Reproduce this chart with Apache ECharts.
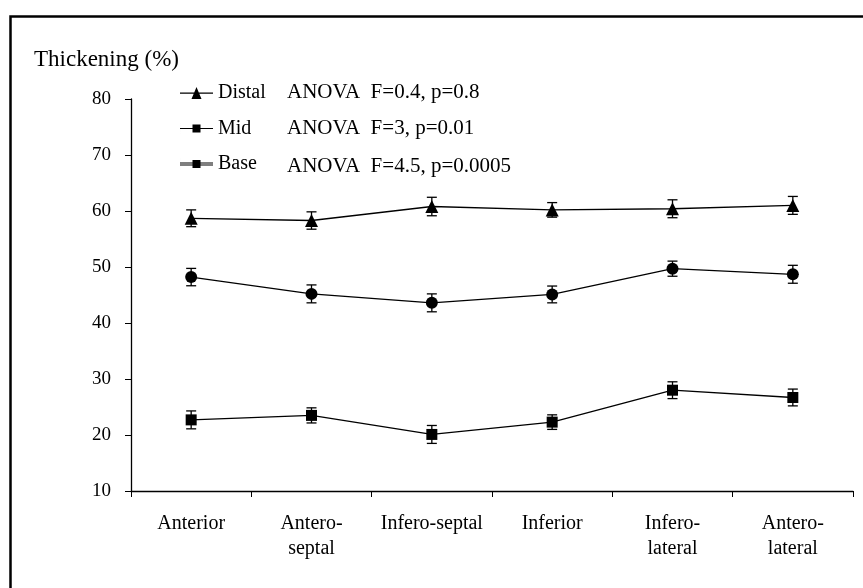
<!DOCTYPE html>
<html>
<head>
<meta charset="utf-8">
<script src="https://cdn.jsdelivr.net/npm/echarts@6/dist/echarts.min.js"></script>
<style>
html,body{margin:0;padding:0;background:#fff;}
#chart{width:863px;height:588px;}
</style>
</head>
<body>
<div id="chart"></div>
<script>
const categories = ['Anterior', 'Antero-\nseptal', 'Infero-septal', 'Inferior', 'Infero-\nlateral', 'Antero-\nlateral'];
const distal = [58.7, 58.3, 60.8, 60.2, 60.4, 61.0];
const distalErr = [1.5, 1.55, 1.65, 1.3, 1.6, 1.6];
const mid = [48.2, 45.2, 43.6, 45.1, 49.7, 48.7];
const midErr = [1.55, 1.6, 1.6, 1.5, 1.35, 1.6];
const base = [22.7, 23.5, 20.1, 22.3, 28.0, 26.7];
const baseErr = [1.6, 1.35, 1.6, 1.3, 1.5, 1.5];
const anovaTexts = ['ANOVA  F=0.4, p=0.8', 'ANOVA  F=3, p=0.01', 'ANOVA  F=4.5, p=0.0005'];
const yTicks = {min: 10, max: 80, interval: 10};

const FONT = '"Liberation Serif", "DejaVu Serif", serif';
const chart = echarts.init(document.getElementById('chart'));

// legend icons: line + marker, drawn in a 33 x 12 box
const iconDistal = 'path://M0,5.4H33V6.7H0ZM11.5,12L16.5,0L21.5,12Z';
const iconMid = 'path://M0,0H0.01V12H0ZM0,5.4H33V6.6H0ZM12.5,2H20.5V10H12.5Z';
const iconBase = 'path://M0,0H0.01V12H0ZM0,4.6H33V5.5H0ZM0,6.6H33V7.5H0ZM12.5,2H20.5V10H12.5Z';

function errSeries(vals, errs) {
  return {
    type: 'custom',
    silent: true,
    z: 3,
    data: vals.map((v, i) => [i, v - errs[i], v + errs[i]]),
    renderItem: function (params, api) {
      const lo = api.coord([api.value(0), api.value(1)]);
      const hi = api.coord([api.value(0), api.value(2)]);
      const w = 5;
      const st = {stroke: '#000', lineWidth: 1.3};
      return {
        type: 'group',
        children: [
          {type: 'line', shape: {x1: lo[0], y1: lo[1], x2: hi[0], y2: hi[1]}, style: st},
          {type: 'line', shape: {x1: lo[0] - w, y1: lo[1], x2: lo[0] + w, y2: lo[1]}, style: st},
          {type: 'line', shape: {x1: hi[0] - w, y1: hi[1], x2: hi[0] + w, y2: hi[1]}, style: st}
        ]
      };
    }
  };
}

function lineSeries(name, vals, symbol, size) {
  return {
    name: name,
    type: 'line',
    data: vals,
    symbol: symbol,
    symbolSize: size,
    z: 4,
    lineStyle: {color: '#000', width: 1.3},
    itemStyle: {color: '#000'},
    animation: false
  };
}

const option = {
  animation: false,
  backgroundColor: '#fff',
  textStyle: {fontFamily: FONT, color: '#000'},
  grid: {left: 131, top: 99, right: 10, bottom: 97, containLabel: false},
  legend: {
    orient: 'vertical',
    left: 175,
    top: 77,
    itemWidth: 33,
    itemHeight: 12,
    itemGap: 13.5,
    data: [
      {name: 'Distal', icon: iconDistal},
      {name: 'Mid', icon: iconMid},
      {name: 'Base', icon: iconBase}
    ],
    textStyle: {fontFamily: FONT, fontSize: 20, color: '#000', lineHeight: 22},
    selectedMode: false
  },
  xAxis: {
    type: 'category',
    data: categories,
    boundaryGap: true,
    axisLine: {lineStyle: {color: '#000', width: 1.3}},
    axisTick: {show: true, length: 6, lineStyle: {color: '#000'}},
    axisLabel: {fontFamily: FONT, fontSize: 20, color: '#000', margin: 20, lineHeight: 25, interval: 0}
  },
  yAxis: {
    type: 'value',
    min: yTicks.min,
    max: yTicks.max,
    interval: yTicks.interval,
    splitLine: {show: false},
    axisLine: {show: true, lineStyle: {color: '#000', width: 1.3}},
    axisTick: {show: true, length: 6, lineStyle: {color: '#000'}},
    axisLabel: {fontFamily: FONT, fontSize: 19, color: '#000', margin: 20}
  },
  graphic: [
    {type: 'rect', left: 8, top: 14, shape: {width: 900, height: 700}, style: {fill: 'none', stroke: '#000', lineWidth: 2.5}, silent: true, z: -1},
    {type: 'text', left: 34, top: 48, style: {text: 'Thickening (%)', font: '23px ' + FONT, fill: '#000'}},
    {type: 'text', left: 287, top: 82, style: {text: anovaTexts[0], font: '21px ' + FONT, fill: '#000'}},
    {type: 'text', left: 287, top: 118, style: {text: anovaTexts[1], font: '21px ' + FONT, fill: '#000'}},
    {type: 'text', left: 287, top: 156, style: {text: anovaTexts[2], font: '21px ' + FONT, fill: '#000'}}
  ],
  series: [
    lineSeries('Distal', distal, 'triangle', 13),
    lineSeries('Mid', mid, 'circle', 12),
    lineSeries('Base', base, 'rect', 11),
    errSeries(distal, distalErr),
    errSeries(mid, midErr),
    errSeries(base, baseErr)
  ]
};
chart.setOption(option);
</script>
</body>
</html>
